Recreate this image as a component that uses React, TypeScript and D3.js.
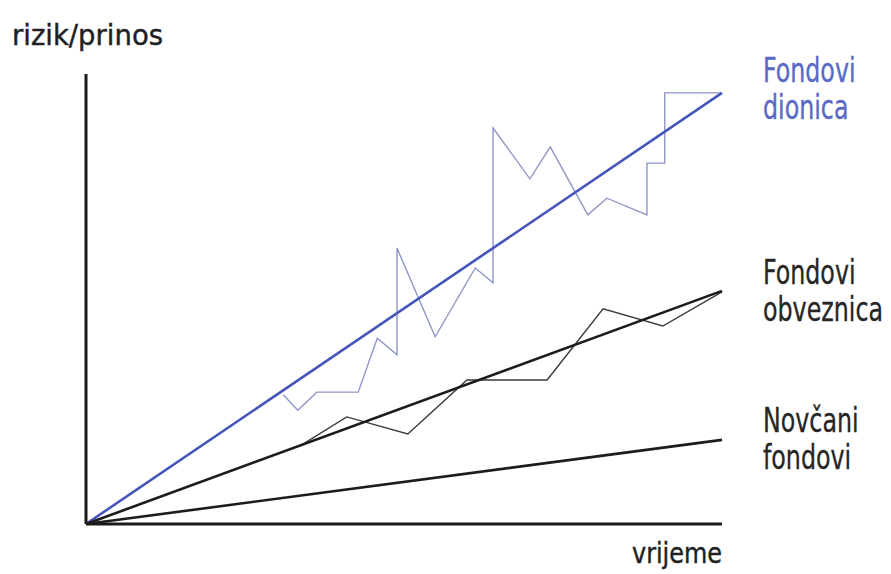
import React from 'react';
import * as d3 from 'd3';

// time axis 0..100, risk/return axis 0..100
const trendNames = ['Fondovi dionica', 'Fondovi obveznica', 'Novčani fondovi'];
const trendEnd = [95.8, 51.8, 18.7];

// stock funds actual path
const stockX = [31.0, 33.3, 36.3, 42.8, 45.8, 48.9, 48.9, 54.9, 61.2, 64.0, 64.0, 69.8, 73.0, 78.9, 81.9, 88.2, 88.2, 91.0, 91.0, 100];
const stockY = [28.7, 25.3, 29.3, 29.3, 41.3, 37.6, 61.3, 41.6, 56.9, 53.6, 88.0, 76.7, 83.8, 68.7, 72.4, 68.7, 80.2, 80.2, 95.8, 95.8];

// bond funds actual path
const bondX = [33.6, 41.0, 50.6, 59.9, 72.5, 81.3, 90.7, 100];
const bondY = [17.3, 23.8, 20.0, 32.0, 32.0, 47.8, 44.0, 51.6];

const labelLines = [['Fondovi', 'dionica'], ['Fondovi', 'obveznica'], ['Novčani', 'fondovi']];

const W = 891;
const H = 574;
const FONT = '"DejaVu Sans Condensed", "DejaVu Sans", sans-serif';

const App: React.FC = () => {
  const x = d3.scaleLinear().domain([0, 100]).range([86, 722]);
  const y = d3.scaleLinear().domain([0, 100]).range([524, 74]);

  const line = d3.line<[number, number]>()
    .x(d => x(d[0]))
    .y(d => y(d[1]));

  const trendColors = ['#4656b8', '#1c1c1c', '#1c1c1c'];
  const labelColors = ['#5869c6', '#262626', '#262626'];
  const labelBase = [82, 284, 432];

  const stockPts = stockX.map((v, i) => [v, stockY[i]] as [number, number]);
  const bondPts = bondX.map((v, i) => [v, bondY[i]] as [number, number]);

  return (
    <svg width={W} height={H} style={{ position: 'absolute', left: 0, top: 0, background: '#fff' }}>
      {/* zigzag paths */}
      <path d={line(stockPts) || ''} fill="none" stroke="#8f97c6" strokeWidth={1.4} />
      <path d={line(bondPts) || ''} fill="none" stroke="#3a3a3a" strokeWidth={1.4} />

      {/* trend lines */}
      {trendEnd.map((v, i) => (
        <path
          key={trendNames[i]}
          d={line([[0, 0], [100, v]]) || ''}
          fill="none"
          stroke={trendColors[i]}
          strokeWidth={2.6}
        />
      ))}

      {/* axes */}
      <line x1={x(0)} y1={y(0)} x2={x(0)} y2={y(100)} stroke="#1a1a1a" strokeWidth={3} />
      <line x1={x(0)} y1={y(0)} x2={x(100)} y2={y(0)} stroke="#1a1a1a" strokeWidth={3} />

      <text x={12} y={45} fontFamily={FONT} fontSize={28} fill="#1f1f1f"
        stroke="#1f1f1f" strokeWidth={0.4} textLength={151} lengthAdjust="spacingAndGlyphs">rizik/prinos</text>
      <text x={632} y={563} fontFamily={FONT} fontSize={28} fill="#1f1f1f"
        stroke="#1f1f1f" strokeWidth={0.4} textLength={90} lengthAdjust="spacingAndGlyphs">vrijeme</text>

      {/* condensed series labels */}
      {labelLines.map((ls, i) =>
        ls.map((t, j) => (
          <text
            key={i + '-' + j}
            transform={`translate(763,${labelBase[i] + j * 37}) scale(0.8,1)`}
            fontFamily={FONT}
            fontSize={33}
            fill={labelColors[i]}
            stroke={labelColors[i]}
            strokeWidth={0.3}
          >
            {t}
          </text>
        ))
      )}
    </svg>
  );
};

export default App;
